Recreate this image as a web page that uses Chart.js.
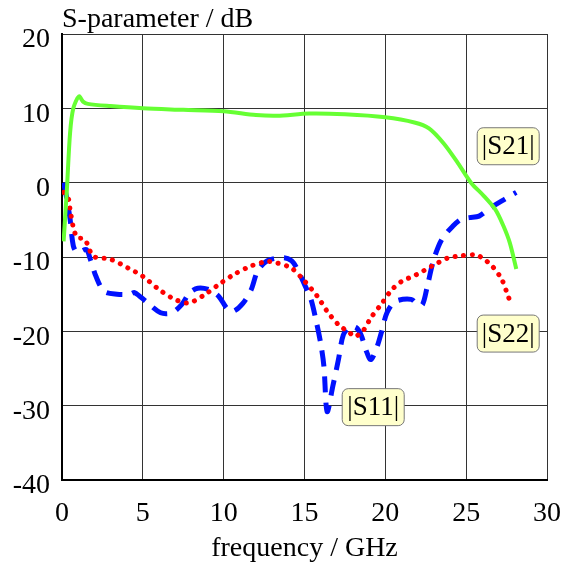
<!DOCTYPE html>
<html>
<head>
<meta charset="utf-8">
<script src="https://cdn.jsdelivr.net/npm/chart.js@4"></script>
<style>
  html, body { margin: 0; padding: 0; background: #fff; }
  #wrap { width: 569px; height: 564px; }
</style>
</head>
<body>
<div id="wrap"><canvas id="sparams" width="569" height="564"></canvas></div>
<script>
// values
const s21Freq = [0.1, 0.3, 0.5, 0.7, 1.05, 1.3, 1.6, 3, 5, 7.5, 10, 12, 13.3, 15.3, 17.5, 20, 21.8, 22.7, 23.6, 24.5, 25.3, 26.1, 26.8, 27.3, 27.7, 28.1];
const s21Db   = [-7.9, -1, 6.7, 10, 11.6, 10.9, 10.6, 10.3, 10.0, 9.8, 9.6, 9.1, 9.0, 9.3, 9.2, 8.8, 8.1, 7.3, 5.3, 2.6, 0, -1.8, -3.6, -5.8, -8.1, -11.6];

const s11Freq = [0.1, 0.3, 0.5, 0.7, 0.95, 1.5, 1.75, 2.1, 2.6, 3.4, 4.2, 4.5, 5.2, 6.1, 6.8, 7.4, 7.9, 8.4, 9.1, 9.7, 10.2, 10.6, 11.2, 11.7, 12.1, 12.7, 13.7, 14.2, 14.5, 15, 15.4, 15.7, 16, 16.2, 16.4, 16.75, 17.1, 17.4, 17.8, 18.2, 18.5, 18.8, 19.1, 19.5, 19.8, 20.1, 20.6, 21.6, 22, 22.3, 22.6, 23, 23.5, 24.2, 24.7, 25.2, 25.8, 26.5, 27.4, 28.1];
const s11Db   = [0, -2.2, -4.9, -8.5, -9.4, -9, -10.3, -12.6, -14.6, -15, -15, -14.8, -16, -17.5, -17.5, -16.4, -14.8, -14.2, -14.4, -15.3, -16.9, -17.3, -16.2, -14.4, -11.9, -10.5, -10.1, -10.5, -11.4, -13.7, -15.7, -18.4, -21.6, -24.7, -30.8, -27.4, -23.8, -20.5, -19.4, -19.5, -20.5, -22.5, -23.8, -22, -19.8, -17.5, -16, -15.7, -16.4, -16.4, -13.9, -10.3, -7.6, -5.8, -4.9, -4.7, -4.5, -3.4, -2.2, -1.3];

const s22Freq = [0.1, 0.4, 0.5, 0.7, 0.95, 1.4, 1.95, 3, 4.1, 5, 5.9, 6.8, 7.8, 8.8, 9.7, 10.6, 11.7, 12.7, 13.3, 14.2, 14.9, 15.8, 16.4, 17.1, 17.8, 18.1, 18.6, 19.1, 19.8, 20.4, 21, 21.9, 22.9, 23.9, 24.5, 25.6, 26.1, 26.6, 27.2, 27.6, 27.8];
const s22Db   = [-1.3, -2.2, -3.6, -6, -7.4, -7.6, -9.9, -10.3, -11.5, -12.6, -14.2, -15.5, -16.2, -15.1, -13.7, -12.4, -11.2, -10.6, -10.8, -11.5, -13, -15.3, -17.3, -19.1, -20.2, -20.7, -20, -18.2, -16.2, -14.4, -13.3, -12.4, -11.2, -10.1, -9.9, -9.7, -10.3, -11.2, -13, -15.3, -16.4];

const xTicks = [0, 5, 10, 15, 20, 25, 30];
const yTicks = [-40, -30, -20, -10, 0, 10, 20];

// curve labels: text, freq, dB (centre of the box)
const labelText = ['|S21|', '|S22|', '|S11|'];
const labelFreq = [27.6, 27.6, 19.25];
const labelDb   = [4.9, -20.3, -30.2];

const SERIF = '"Liberation Serif", "DejaVu Serif", serif';

function pts(xs, ys) {
    return xs.map((x, i) => ({ x: x, y: ys[i] }));
}

const labelsPlugin = {
    id: 'curveLabels',
    afterDraw(chart) {
        const c = chart.ctx, xs = chart.scales.x, ys = chart.scales.y, a = chart.chartArea;
        c.save();
        // axis titles
        c.fillStyle = '#000';
        c.font = '28px ' + SERIF;
        c.textBaseline = 'alphabetic';
        c.textAlign = 'left';
        c.fillText('S-parameter / dB', a.left, 27);
        c.textAlign = 'center';
        c.fillText('frequency / GHz', (a.left + a.right) / 2, 556);

        // boxes
        c.font = '27px ' + SERIF;
        c.textBaseline = 'middle';
        for (let i = 0; i < labelText.length; i++) {
            const cx = xs.getPixelForValue(labelFreq[i]);
            const cy = ys.getPixelForValue(labelDb[i]);
            const w = 62, h = 37;
            c.beginPath();
            c.roundRect(cx - w / 2, cy - h / 2, w, h, 6);
            c.fillStyle = '#ffffcc';
            c.fill();
            c.lineWidth = 1;
            c.strokeStyle = '#777';
            c.stroke();
            c.fillStyle = '#000';
            c.fillText(labelText[i], cx, cy + 1);
        }
        c.restore();
    }
};

new Chart(document.getElementById('sparams'), {
    type: 'line',
    data: {
        datasets: [
            {
                label: '|S21|',
                data: pts(s21Freq, s21Db),
                borderColor: '#66ff33',
                borderWidth: 4,
                tension: 0.3,
                pointRadius: 0,
                order: 1
            },
            {
                label: '|S22|',
                data: pts(s22Freq, s22Db),
                borderColor: '#ff0000',
                borderWidth: 5,
                borderDash: [0.1, 8.5],
                borderCapStyle: 'round',
                tension: 0.3,
                pointRadius: 0,
                order: 2
            },
            {
                label: '|S11|',
                data: pts(s11Freq, s11Db),
                borderColor: '#0011ff',
                borderWidth: 5,
                borderDash: [16, 10],
                tension: 0.3,
                pointRadius: 0,
                order: 3
            }
        ]
    },
    options: {
        responsive: false,
        animation: false,
        layout: { padding: { top: 34, right: 22, left: 0, bottom: 0 } },
        plugins: {
            legend: { display: false },
            tooltip: { enabled: false }
        },
        scales: {
            x: {
                type: 'linear',
                min: 0, max: 30,
                afterBuildTicks: s => { s.ticks = xTicks.map(v => ({ value: v })); },
                afterFit: s => { s.height = 84; s.paddingLeft = 0; s.paddingRight = 0; },
                grid: { color: '#333', lineWidth: 1, drawTicks: false },
                border: { color: '#000', width: 2 },
                ticks: { color: '#000', font: { family: SERIF, size: 28 }, padding: 17, maxRotation: 0 }
            },
            y: {
                type: 'linear',
                min: -40, max: 20,
                afterBuildTicks: s => { s.ticks = yTicks.map(v => ({ value: v })); },
                afterFit: s => { s.width = 62; s.paddingTop = 0; s.paddingBottom = 0; },
                grid: { color: '#333', lineWidth: 1, drawTicks: false },
                border: { color: '#000', width: 2 },
                ticks: { color: '#000', font: { family: SERIF, size: 28 }, padding: 12, labelOffset: 6 }
            }
        }
    },
    plugins: [labelsPlugin]
});
</script>
</body>
</html>
